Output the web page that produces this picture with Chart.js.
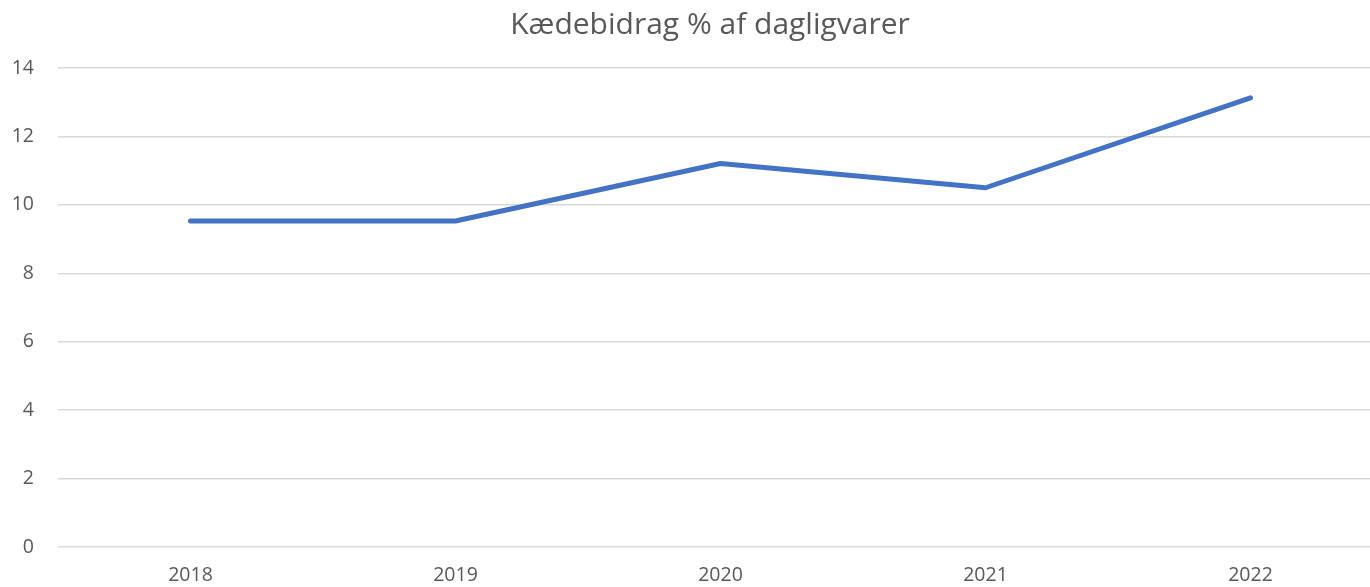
<!DOCTYPE html>
<html>
<head>
<meta charset="utf-8">
<script src="https://cdn.jsdelivr.net/npm/chart.js@4"></script>
<style>
html,body{margin:0;padding:0;background:#fff;overflow:hidden;}
#wrap{width:1420px;height:587px;}
</style>
</head>
<body>
<div id="wrap"><canvas id="c" width="1420" height="587"></canvas></div>
<script>
const categories = ['2018', '2019', '2020', '2021', '2022'];
const values = [9.53, 9.53, 11.21, 10.5, 13.13];
const yTicks = [0, 2, 4, 6, 8, 10, 12, 14];
const titleText = 'Kædebidrag % af dagligvarer';

const FONT = '"Open Sans", "Liberation Sans", sans-serif';
new Chart(document.getElementById('c'), {
  type: 'line',
  data: {
    labels: categories,
    datasets: [{
      data: values,
      borderColor: '#4472C4',
      borderWidth: 5,
      borderCapStyle: 'round',
      borderJoinStyle: 'round',
      pointRadius: 0,
      tension: 0,
      fill: false
    }]
  },
  options: {
    responsive: false,
    animation: false,
    layout: { padding: 0 },
    plugins: {
      legend: { display: false },
      tooltip: { enabled: false },
      title: {
        display: true,
        text: titleText,
        color: '#595959',
        font: { family: FONT, size: 30, weight: 'normal' },
        padding: { top: 7, bottom: 25 }
      }
    },
    scales: {
      x: {
        offset: true,
        grid: { display: false, drawTicks: false },
        border: { display: false },
        ticks: { color: '#595959', font: { family: FONT, size: 19.5 }, padding: 17, maxRotation: 0 },
        afterFit: s => { s.height = 40; }
      },
      y: {
        min: 0, max: 14,
        afterBuildTicks: s => { s.ticks = yTicks.map(v => ({ value: v })); },
        grid: { color: '#d9d9d9', lineWidth: 1.5, drawTicks: false },
        border: { display: false },
        ticks: { color: '#595959', font: { family: FONT, size: 19.5 }, padding: 24 },
        afterFit: s => { s.width = 58; }
      },
      yPad: {
        position: 'right',
        display: true,
        grid: { display: false, drawTicks: false },
        border: { display: false },
        ticks: { display: false },
        afterFit: s => { s.width = 37; }
      }
    }
  }
});
</script>
</body>
</html>
